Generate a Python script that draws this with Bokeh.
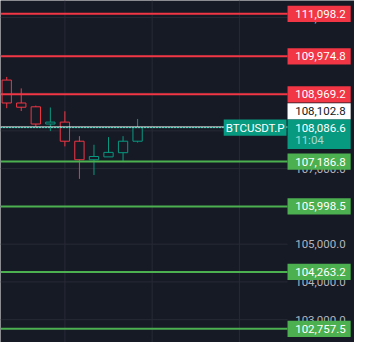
from bokeh.plotting import figure
from bokeh.models import Range1d
from bokeh.core.properties import value
from bokeh.embed import file_html
from bokeh.resources import INLINE

# ---- data ----
bars   = [0, 1, 2, 3, 4, 5, 6, 7, 8, 9]
opens  = [109345, 108738, 108637, 108181, 108232, 107726, 107235, 107311, 107422, 107726]
highs  = [109428, 109125, 108669, 108619, 108518, 107860, 107632, 107835, 107860, 108315]
lows   = [108601, 108525, 108113, 107994, 107589, 106729, 106830, 107311, 107184, 107690]
closes = [108738, 108626, 108181, 108232, 107726, 107235, 107321, 107430, 107726, 108086.6]

red_levels   = [111098.2, 109974.8, 108969.2]
green_levels = [107186.8, 105998.5, 104263.2, 102757.5]
price_ticks  = [103000, 104000, 105000, 106000, 107000, 108000, 109000, 110000, 111000]
time_grid    = [4, 10, 16]
symbol       = "BTCUSDT.P"
last_price   = 108086.6
mark_price   = 108102.8
countdown    = "11:04"

# ---- styling / layout ----
BG = "#161a25"
GRID = "#272b36"
RED = "#f23645"
GREEN = "#4caf50"
TEAL = "#089981"
FONT = value("Roboto")
FS = "11.5px"

W, H = 354, 342
REF_W, REF_H = 370, 358
BAR_PX = 15.2            # reference px per bar
PPP = 25.297             # price per reference px
X0 = -6.5 / BAR_PX
X1 = X0 + REF_W / BAR_PX
Y1 = 102757.5 + 343.7 * PPP
Y0 = Y1 - REF_H * PPP


def xd(px):
    return X0 + px / BAR_PX


def dy(px):
    return px * PPP


AX = xd(300)           # start of the price scale
BOX_L, BOX_R = xd(300), xd(366)
TXT_X = xd(308)

p = figure(width=W, height=H, x_range=Range1d(X0, X1), y_range=Range1d(Y0, Y1),
           output_backend="svg", toolbar_location=None, min_border=0,
           x_axis_type=None, y_axis_type=None,
           background_fill_color=BG, border_fill_color=BG, outline_line_color=None)
p.grid.visible = False

# grid
p.segment(x0=[X0] * len(price_ticks), x1=[AX] * len(price_ticks), y0=price_ticks, y1=price_ticks,
          line_color=GRID, line_width=1)
p.segment(x0=time_grid, x1=time_grid, y0=[Y0] * len(time_grid), y1=[Y1] * len(time_grid),
          line_color=GRID, line_width=1)

# candles (hollow)
cols = [TEAL if c >= o else RED for o, c in zip(opens, closes)]
p.segment(x0=bars, x1=bars, y0=lows, y1=highs, line_color=cols, line_width=1)
p.vbar(x=bars, width=0.64, top=[max(o, c) for o, c in zip(opens, closes)],
       bottom=[min(o, c) for o, c in zip(opens, closes)],
       fill_color=BG, line_color=cols, line_width=1)

# level lines
for levels, col in ((red_levels, RED), (green_levels, GREEN)):
    n = len(levels)
    p.segment(x0=[X0] * n, x1=[AX] * n, y0=levels, y1=levels, line_color=col, line_width=2)

# price lines
p.segment(x0=[X0], x1=[AX], y0=[mark_price], y1=[mark_price], line_color="white", line_width=1)
p.segment(x0=[X0], x1=[AX], y0=[last_price], y1=[last_price], line_color=TEAL, line_width=1)
p.segment(x0=[X0], x1=[AX], y0=[last_price], y1=[last_price], line_color="white", line_width=1,
          line_dash="1 2")

# price scale labels
p.text(x=[TXT_X] * len(price_ticks), y=price_ticks,
       text=[f"{t:,.1f}" for t in price_ticks], text_color="#b2b5be", text_font=FONT,
       text_font_size=FS, text_align="left", text_baseline="middle")

# level boxes
for levels, col in ((red_levels, RED), (green_levels, GREEN)):
    n = len(levels)
    p.quad(left=[BOX_L] * n, right=[BOX_R] * n,
           top=[v + dy(8.5) for v in levels], bottom=[v - dy(8.5) for v in levels],
           fill_color=col, line_color=None)
    p.text(x=[TXT_X] * n, y=levels, text=[f"{v:,.1f}" for v in levels], text_color="white",
           text_font=FONT, text_font_size=FS, text_align="left", text_baseline="middle")

# last price / mark price boxes
p.quad(left=[BOX_L], right=[BOX_R], top=[last_price + dy(25.5)], bottom=[last_price + dy(8.5)],
       fill_color="white", line_color=None)
p.text(x=[TXT_X], y=[last_price + dy(17)], text=[f"{mark_price:,.1f}"], text_color="#131722",
       text_font=FONT, text_font_size=FS, text_align="left", text_baseline="middle")
p.quad(left=[BOX_L], right=[BOX_R], top=[last_price + dy(8.5)], bottom=[last_price - dy(22.5)],
       fill_color=TEAL, line_color=None)
p.text(x=[TXT_X], y=[last_price], text=[f"{last_price:,.1f}"], text_color="white",
       text_font=FONT, text_font_size=FS, text_align="left", text_baseline="middle")
p.text(x=[TXT_X], y=[last_price - dy(13.5)], text=[countdown], text_color="#a6d9cf",
       text_font=FONT, text_font_size=FS, text_align="left", text_baseline="middle")
p.quad(left=[xd(233.3)], right=[xd(299)], top=[last_price + dy(8.5)], bottom=[last_price - dy(8.5)],
       fill_color=TEAL, line_color=None)
p.text(x=[(xd(233.3) + xd(299)) / 2], y=[last_price], text=[symbol], text_color="white",
       text_font=FONT, text_font_size=FS, text_align="center", text_baseline="middle")

open("out.html", "w").write(file_html(p, INLINE))
